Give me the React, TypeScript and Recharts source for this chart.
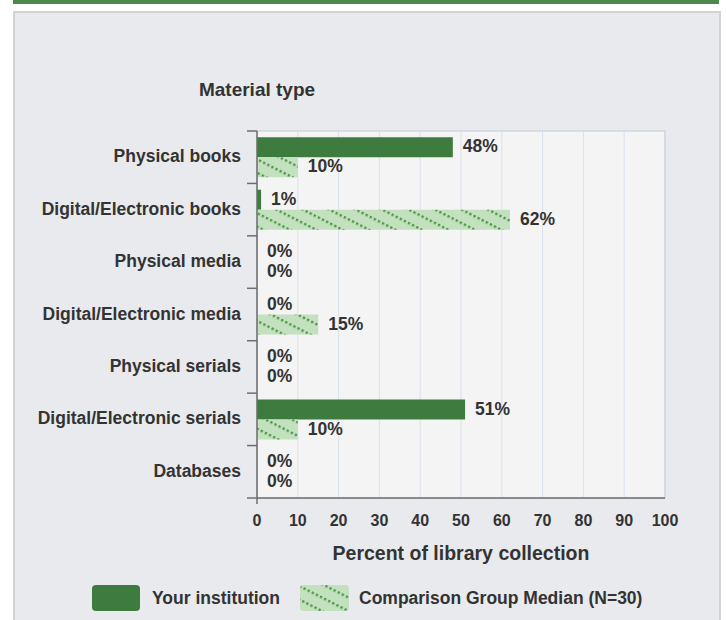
import React from "react";
import { BarChart, Bar, XAxis, YAxis, CartesianGrid, LabelList, Label, ReferenceArea } from "recharts";

const categories = [
  "Physical books",
  "Digital/Electronic books",
  "Physical media",
  "Digital/Electronic media",
  "Physical serials",
  "Digital/Electronic serials",
  "Databases",
];
const yourInstitution = [48, 1, 0, 0, 0, 51, 0];
const comparisonMedian = [10, 62, 0, 15, 0, 10, 0];
const xTicks = [0, 10, 20, 30, 40, 50, 60, 70, 80, 90, 100];
const seriesNames = ["Your institution", "Comparison Group Median (N=30)"];

const data = categories.map((name, i) => ({
  name,
  you: yourInstitution[i],
  median: comparisonMedian[i],
}));

const FONT = '"Liberation Sans", Arial, sans-serif';
const TEXT = "#333333";
const DARK = "#3e7b3e";
const AXIS = "#6e6e6e";

function HatchDefs({ id }: { id: string }) {
  return (
    <pattern id={id} patternUnits="userSpaceOnUse" width={4.6} height={12} patternTransform="rotate(27)">
      <rect x={0} y={0} width={4.6} height={12} fill="#c3e1be" />
      <rect x={0} y={0} width={2.3} height={2.4} fill="#4c9647" />
    </pattern>
  );
}

function YTick(props: any) {
  const { x, y, payload, index, visibleTicksCount } = props;
  const half = payload && payload.offset ? payload.offset : 26.2;
  const last = index === (visibleTicksCount ?? categories.length) - 1;
  return (
    <g>
      <line x1={x - 10} x2={x} y1={y - half} y2={y - half} stroke={AXIS} strokeWidth={1.5} />
      {last && <line x1={x - 10} x2={x} y1={y + half} y2={y + half} stroke={AXIS} strokeWidth={1.5} />}
      <text x={x - 16} y={y - 1} dy="0.35em" textAnchor="end" fontFamily={FONT} fontWeight="bold" fontSize={17.5} fill={TEXT}>
        {payload.value}
      </text>
    </g>
  );
}

function XTick(props: any) {
  const { x, y, payload } = props;
  return (
    <g>
      {payload.value === 0 && <line x1={x} x2={x} y1={y} y2={y + 6} stroke={AXIS} strokeWidth={1.5} />}
      <text x={x} y={y + 22} dy="0.35em" textAnchor="middle" fontFamily={FONT} fontWeight="bold" fontSize={16} fill={TEXT}>
        {payload.value}
      </text>
    </g>
  );
}

function ValueLabel(props: any) {
  const { x, y, width, height, value } = props;
  return (
    <text
      x={Number(x) + Number(width || 0) + 10}
      y={Number(y) + Number(height) / 2 - 1}
      dy="0.35em"
      textAnchor="start"
      fontFamily={FONT}
      fontWeight="bold"
      fontSize={17.5}
      fill={TEXT}
    >
      {`${value}%`}
    </text>
  );
}

export default function App() {
  return (
    <div style={{ position: "absolute", left: 0, top: 0, width: 726, height: 620, background: "#ffffff", overflow: "hidden", fontFamily: FONT }}>
      <div style={{ position: "absolute", left: 13, top: 0, width: 706, height: 4, background: "#4b8a4b" }} />
      <div
        style={{
          position: "absolute",
          left: 13,
          top: 11,
          width: 704,
          height: 620,
          background: "#e9eaee",
          border: "2px solid #d3d3d5",
        }}
      />
      <div
        style={{
          position: "absolute",
          left: 137,
          top: 79,
          width: 240,
          textAlign: "center",
          fontSize: 19,
          lineHeight: "22px",
          fontWeight: "bold",
          color: TEXT,
        }}
      >
        Material type
      </div>
      <div style={{ position: "absolute", left: 0, top: 0 }}>
        <BarChart
          width={726}
          height={620}
          layout="vertical"
          data={data}
          margin={{ top: 131, right: 61, left: 0, bottom: 0 }}
          barCategoryGap="12%"
          barGap={0}
        >
          <defs>
            <HatchDefs id="hatch" />
          </defs>
          <CartesianGrid horizontal={false} stroke="#dae1ec" fill="#f4f4f4" />
          <ReferenceArea x1={0} x2={100} fill="none" stroke="#cfd6e0" strokeWidth={1.5} ifOverflow="visible" />
          <XAxis
            type="number"
            domain={[0, 100]}
            ticks={xTicks}
            interval={0}
            height={122}
            axisLine={{ stroke: AXIS, strokeWidth: 1.5 }}
            tickLine={false}
            tickSize={0}
            tickMargin={0}
            tick={<XTick />}
          >
            <Label
              content={(p: any) => {
                const vb = p.viewBox;
                return (
                  <text
                    x={vb.x + vb.width / 2}
                    y={vb.y + 55}
                    dy="0.35em"
                    textAnchor="middle"
                    fontFamily={FONT}
                    fontWeight="bold"
                    fontSize={19.5}
                    fill={TEXT}
                  >
                    Percent of library collection
                  </text>
                );
              }}
            />
          </XAxis>
          <YAxis
            type="category"
            dataKey="name"
            width={257}
            interval={0}
            axisLine={{ stroke: AXIS, strokeWidth: 1.5 }}
            tickLine={false}
            tickSize={0}
            tickMargin={0}
            tick={<YTick />}
          />
          <Bar dataKey="you" name={seriesNames[0]} fill={DARK} minPointSize={0.001} isAnimationActive={false}>
            <LabelList dataKey="you" content={<ValueLabel />} />
          </Bar>
          <Bar dataKey="median" name={seriesNames[1]} fill="url(#hatch)" minPointSize={0.001} isAnimationActive={false}>
            <LabelList dataKey="median" content={<ValueLabel />} />
          </Bar>
        </BarChart>
      </div>
      <svg style={{ position: "absolute", left: 92, top: 585 }} width={50} height={28}>
        <rect x={0} y={0} width={48} height={26} rx={4} fill={DARK} />
      </svg>
      <div style={{ position: "absolute", left: 152, top: 587, fontSize: 17.5, lineHeight: "22px", fontWeight: "bold", color: TEXT }}>
        {seriesNames[0]}
      </div>
      <svg style={{ position: "absolute", left: 300, top: 585 }} width={50} height={28}>
        <defs>
          <HatchDefs id="hatchLegend" />
        </defs>
        <rect x={0} y={0} width={49} height={26} rx={4} fill="url(#hatchLegend)" />
      </svg>
      <div style={{ position: "absolute", left: 359, top: 587, fontSize: 17.5, lineHeight: "22px", fontWeight: "bold", color: TEXT }}>
        {seriesNames[1]}
      </div>
    </div>
  );
}
